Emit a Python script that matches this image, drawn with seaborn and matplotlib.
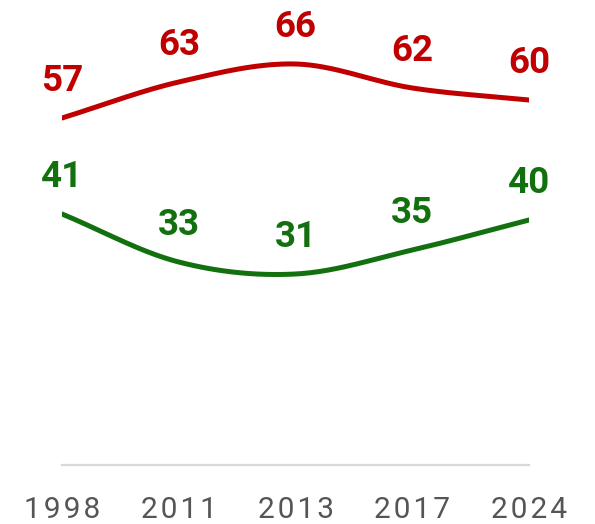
import numpy as np
import pandas as pd
import matplotlib
matplotlib.use('Agg')
import matplotlib.pyplot as plt
import seaborn as sns

# Datos
years = ['1998', '2011', '2013', '2017', '2024']
red_values = [57, 63, 66, 62, 60]
green_values = [41, 33, 31, 35, 40]

RED = '#C00000'
GREEN = '#13700F'
GRAY_TXT = '#555555'


def smooth(values, n=40):
    """Catmull-Rom entre los puntos, para dibujar la curva suave"""
    y = np.asarray(values, dtype=float)
    k = len(y)
    m = np.zeros(k)
    m[1:-1] = (y[2:] - y[:-2]) / 2
    m[0] = (y[1] - y[0])
    m[-1] = (y[-1] - y[-2])
    xs, ys = [], []
    for i in range(k - 1):
        t = np.linspace(0, 1, n, endpoint=(i == k - 2))
        h00 = 2 * t**3 - 3 * t**2 + 1
        h10 = t**3 - 2 * t**2 + t
        h01 = -2 * t**3 + 3 * t**2
        h11 = t**3 - t**2
        xs.append(i + t)
        ys.append(h00 * y[i] + h10 * m[i] + h01 * y[i + 1] + h11 * m[i + 1])
    return np.concatenate(xs), np.concatenate(ys)


frames = []
for name, vals in [('rojo', red_values), ('verde', green_values)]:
    cx, cy = smooth(vals)
    frames.append(pd.DataFrame({'x': cx, 'y': cy, 'serie': name}))
curves = pd.concat(frames, ignore_index=True)

sns.set_theme(style='white')
plt.rcParams['font.family'] = ['Roboto', 'DejaVu Sans']

fig = plt.figure(figsize=(5.95, 5.24), dpi=100)
ax = fig.add_axes([62 / 595, (524 - 465) / 524, (529 - 62) / 595, (465 - 10) / 524])

sns.lineplot(data=curves, x='x', y='y', hue='serie',
             palette={'rojo': RED, 'verde': GREEN},
             linewidth=3.6, legend=False, ax=ax, sort=False)

for vals, color in [(red_values, RED), (green_values, GREEN)]:
    for i, v in enumerate(vals):
        ax.annotate(str(v), (i, v), xytext=(0, 26.5), textcoords='offset points',
                    ha='center', va='center', fontsize=26.5, fontweight='bold',
                    color=color)

ax.set_xlim(0, len(years) - 1)
ax.set_ylim(-5 / 6, 75)
ax.set_xticks(range(len(years)))
ax.set_xticklabels(['\u200a'.join(y) for y in years])
ax.set_yticks([])
ax.set_xlabel('')
ax.set_ylabel('')
ax.tick_params(axis='x', length=0, pad=22, labelsize=21.5, labelcolor=GRAY_TXT)

for s in ['top', 'left', 'right']:
    ax.spines[s].set_visible(False)
ax.spines['bottom'].set_color('#D9D9D9')
ax.spines['bottom'].set_linewidth(1.6)

fig.savefig('out.png', dpi=100)
